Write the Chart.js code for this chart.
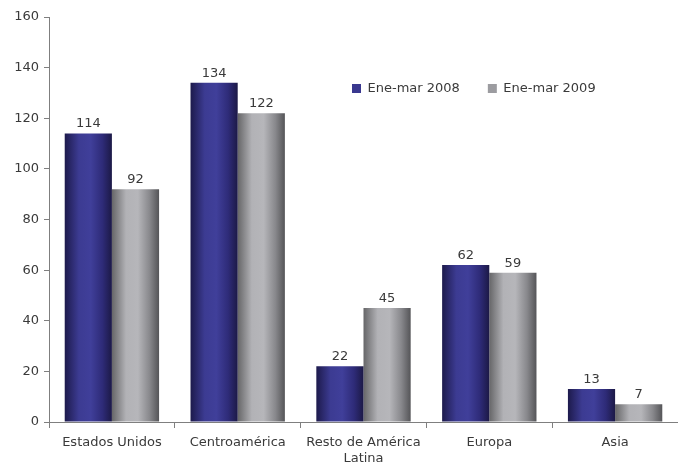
<!DOCTYPE html>
<html>
<head>
<meta charset="utf-8">
<script src="https://cdn.jsdelivr.net/npm/chart.js@4/dist/chart.umd.min.js"></script>
<style>
  html, body { margin: 0; padding: 0; background: #fff; }
  #wrap { width: 678px; height: 462px; }
</style>
</head>
<body>
<div id="wrap"><canvas id="chart" width="678" height="462"></canvas></div>
<script>
const categories = ['Estados Unidos', 'Centroamérica', ['Resto de América', 'Latina'], 'Europa', 'Asia'];
const seriesNames = ['Ene-mar 2008', 'Ene-mar 2009'];
const values2008 = [114, 134, 22, 62, 13];
const values2009 = [92, 122, 45, 59, 7];
const yTicks = [0, 20, 40, 60, 80, 100, 120, 140, 160];

const CAT_PCT = 0.75;
const FONT = '"DejaVu Sans", Verdana, sans-serif';
const TEXT = '#3a3a3a';
const solid = ['#3a388f', '#9c9ca0'];
const stops = [
    [[0, '#1d1a4c'], [0.3, '#3c3b92'], [0.55, '#403f9a'], [0.8, '#2e2b78'], [1, '#1c1946']],
    [[0, '#666668'], [0.3, '#b2b2b6'], [0.55, '#b6b6ba'], [0.8, '#88888c'], [1, '#555558']],
];

function barFill(context) {
    const chart = context.chart;
    const ds = context.datasetIndex;
    const xs = chart.scales && chart.scales.x;
    if (context.type !== 'data' || !xs || !(xs.width > 0)) return solid[ds];
    const center = xs.getPixelForValue(context.dataIndex);
    const w = xs.width / categories.length * CAT_PCT / 2;
    const left = ds === 0 ? center - w : center;
    if (!isFinite(left) || !isFinite(w)) return solid[ds];
    const g = chart.ctx.createLinearGradient(left, 0, left + w, 0);
    stops[ds].forEach((s) => g.addColorStop(s[0], s[1]));
    return g;
}

const valueLabels = {
    id: 'valueLabels',
    afterDatasetsDraw(chart) {
        const c = chart.ctx;
        c.save();
        c.font = '13px ' + FONT;
        c.fillStyle = TEXT;
        c.textAlign = 'center';
        c.textBaseline = 'bottom';
        chart.data.datasets.forEach((ds, i) => {
            chart.getDatasetMeta(i).data.forEach((bar, j) => {
                c.fillText(ds.data[j], bar.x, bar.y - 3);
            });
        });
        c.restore();
    },
};

// legend sits inside the plot, in one row, upper right
const legendSpot = {
    id: 'legendSpot',
    beforeLayout(chart) {
        chart.legend.isHorizontal = () => true;
    },
    afterLayout(chart) {
        const lg = chart.legend;
        lg.left = 324;
        lg.right = 700;
        lg.top = 54;
    },
};

new Chart(document.getElementById('chart'), {
    type: 'bar',
    data: {
        labels: categories,
        datasets: [
            { label: seriesNames[0], data: values2008, backgroundColor: barFill },
            { label: seriesNames[1], data: values2009, backgroundColor: barFill },
        ],
    },
    plugins: [valueLabels, legendSpot],
    options: {
        responsive: false,
        animation: false,
        categoryPercentage: CAT_PCT,
        barPercentage: 1,
        layout: { padding: { top: 17, right: 0, left: 0, bottom: 0 } },
        plugins: {
            tooltip: { enabled: false },
            legend: {
                position: 'chartArea',
                align: 'start',
                labels: {
                    boxWidth: 9,
                    boxHeight: 9,
                    padding: 28,
                    color: TEXT,
                    font: { family: FONT, size: 13 },
                    generateLabels(chart) {
                        const items = Chart.defaults.plugins.legend.labels.generateLabels(chart);
                        items.forEach((it, i) => {
                            it.fillStyle = solid[i];
                            it.lineWidth = 0;
                        });
                        return items;
                    },
                },
            },
        },
        scales: {
            x: {
                grid: { drawOnChartArea: false, offset: true, tickLength: 6, color: '#7f7f7f' },
                border: { color: '#7f7f7f' },
                ticks: { color: TEXT, padding: 7, maxRotation: 0, font: { family: FONT, size: 13 } },
                afterFit(scale) { scale.height = 40; },
            },
            y: {
                min: 0,
                max: 160,
                afterBuildTicks(scale) { scale.ticks = yTicks.map((v) => ({ value: v })); },
                grid: { drawOnChartArea: false, tickLength: 5, color: '#7f7f7f' },
                border: { color: '#7f7f7f' },
                ticks: { color: TEXT, padding: 5, font: { family: FONT, size: 13 } },
                afterFit(scale) { scale.width = 49; },
            },
        },
    },
});
</script>
</body>
</html>
